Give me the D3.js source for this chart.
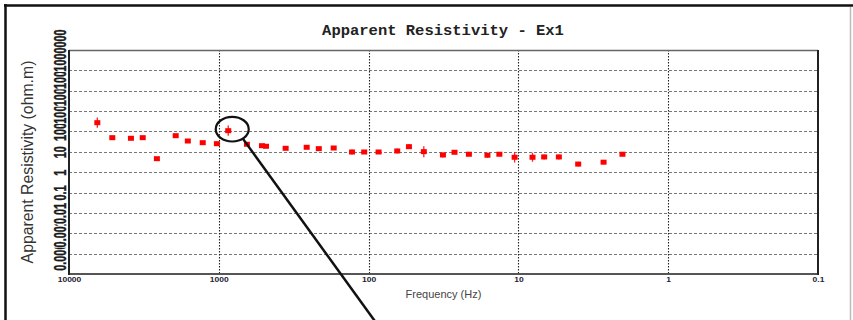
<!DOCTYPE html>
<html>
<head>
<meta charset="utf-8">
<script src="https://cdn.jsdelivr.net/npm/d3@7"></script>
<style>
  html, body { margin: 0; padding: 0; background: #fff; }
  svg { display: block; }
</style>
</head>
<body>
<svg width="853" height="320"></svg>
<script>
// sounding data
var freq = [6470, 5140, 3860, 3220, 2590, 1940, 1610, 1280, 1030, 865,
            649, 515, 484, 358, 259, 215, 171, 129, 107, 85.8,
            64.4, 53.8, 42.8, 31.9, 26.7, 21.4, 16.1, 13.4, 10.6, 8.05,
            6.73, 5.37, 3.99, 2.70, 2.02];
var rho = [270, 49.5, 46.2, 49.5, 4.6, 62, 34, 28.1, 25.1, 109,
           23.5, 20, 18.7, 14.9, 16.7, 14.3, 15.4, 9.8, 9.8, 9.8,
           11, 17.9, 10.2, 7.0, 9.5, 7.6, 6.8, 7.6, 5.4, 5.4,
           5.6, 5.6, 2.5, 3.1, 7.6];
// error half-width in decades
var rhoErr = [0.25, 0.06, 0.06, 0.06, 0.06, 0.06, 0.06, 0.06, 0.06, 0.25,
              0.06, 0.06, 0.06, 0.06, 0.06, 0.06, 0.06, 0.12, 0.06, 0.06,
              0.12, 0.12, 0.27, 0.12, 0.06, 0.06, 0.12, 0.06, 0.26, 0.22,
              0.12, 0.12, 0.12, 0.1, 0.1];

var xTicks = [10000, 1000, 100, 10, 1, 0.1];
var xTickLabels = ["10000", "1000", "100", "10", "1", "0.1"];
var yTicks = [0.0001, 0.001, 0.01, 0.1, 1, 10, 100, 1000, 10000, 100000, 1000000];
var yTickLabels = ["0.0001", "0.001", "0.01", "0.1", "1", "10", "100", "1000", "10000", "100000", "1000000"];

var svg = d3.select("svg"),
    pLeft = 69, pRight = 818, pTop = 50, pBottom = 274;

var x = d3.scaleLog().domain([10000, 0.1]).range([pLeft, pRight]);
var y = d3.scaleLog().domain([0.00001, 1000000]).range([pBottom, pTop]);

svg.append("rect").attr("width", 853).attr("height", 320).attr("fill", "#fff");

// outer frame
svg.append("line").attr("x1", 4).attr("x2", 853).attr("y1", 5.5).attr("y2", 5.5)
    .attr("stroke", "#111").attr("stroke-width", 2.5);
svg.append("line").attr("x1", 5.5).attr("x2", 5.5).attr("y1", 4).attr("y2", 320)
    .attr("stroke", "#111").attr("stroke-width", 2.5);
svg.append("line").attr("x1", 850.5).attr("x2", 850.5).attr("y1", 7).attr("y2", 320)
    .attr("stroke", "#bbb").attr("stroke-width", 1.5);

// title
svg.append("text")
    .attr("x", 443).attr("y", 35)
    .attr("text-anchor", "middle")
    .style("font-family", "'Liberation Mono', 'DejaVu Sans Mono', monospace")
    .style("font-weight", "bold")
    .style("font-size", "15.5px")
    .style("fill", "#222")
    .text("Apparent Resistivity - Ex1");

// horizontal grid
svg.append("g").selectAll("line")
    .data(yTicks.slice(0, -1).concat([1000000]))
    .enter().append("line")
    .attr("x1", pLeft).attr("x2", pRight)
    .attr("y1", function (d) { return Math.round(y(d)) + 0.5; })
    .attr("y2", function (d) { return Math.round(y(d)) + 0.5; })
    .attr("stroke", "#777")
    .attr("stroke-width", 1.2)
    .attr("stroke-dasharray", "3,2");

// vertical grid
svg.append("g").selectAll("line")
    .data(xTicks.slice(1, -1))
    .enter().append("line")
    .attr("x1", function (d) { return Math.round(x(d)) + 0.5; })
    .attr("x2", function (d) { return Math.round(x(d)) + 0.5; })
    .attr("y1", pTop).attr("y2", pBottom)
    .attr("stroke", "#222")
    .attr("stroke-width", 1.1)
    .attr("stroke-dasharray", "1.5,1.5");

// plot frame
svg.append("line").attr("x1", pLeft).attr("x2", pRight).attr("y1", pTop + 0.5).attr("y2", pTop + 0.5)
    .attr("stroke", "#666").attr("stroke-width", 1.5);
svg.append("line").attr("x1", pLeft).attr("x2", pRight + 1).attr("y1", pBottom).attr("y2", pBottom)
    .attr("stroke", "#555").attr("stroke-width", 2);
svg.append("line").attr("x1", pLeft).attr("x2", pLeft).attr("y1", pTop).attr("y2", pBottom + 1)
    .attr("stroke", "#222").attr("stroke-width", 2);
svg.append("line").attr("x1", pRight).attr("x2", pRight).attr("y1", pTop).attr("y2", pBottom + 1)
    .attr("stroke", "#222").attr("stroke-width", 2);

// x axis labels
var xAxis = svg.append("g")
    .attr("transform", "translate(0," + pBottom + ")")
    .call(d3.axisBottom(x).tickValues(xTicks).tickSize(0)
        .tickFormat(function (d, i) { return xTickLabels[i]; }));
xAxis.select(".domain").remove();
xAxis.selectAll("text")
    .attr("y", 0).attr("dy", null)
    .attr("transform", "translate(0,8) scale(1,0.75)")
    .style("font-family", "'Liberation Sans', Arial, sans-serif")
    .style("font-weight", "bold")
    .style("font-size", "8.5px")
    .style("fill", "#223");

// y axis labels: rotated, each on a white patch so higher ones cover lower
var yAxis = svg.append("g")
    .attr("transform", "translate(" + pLeft + ",0)")
    .call(d3.axisLeft(y).tickValues(yTicks).tickSize(0)
        .tickFormat(function (d, i) { return yTickLabels[i]; }));
yAxis.select(".domain").remove();
yAxis.selectAll(".tick").each(function () {
    var t = d3.select(this),
        label = t.select("text").text();
    t.select("text").remove();
    var lg = t.append("g").attr("transform", "translate(-3,0) rotate(-90) scale(0.68,1)");
    var bg = lg.append("rect").attr("fill", "#fff");
    var txt = lg.append("text")
        .attr("x", 0).attr("y", 0)
        .attr("text-anchor", "middle")
        .style("font-family", "'Liberation Sans', Arial, sans-serif")
        .style("font-weight", "bold")
        .style("font-size", "16px")
        .style("fill", "#1a1a1a")
        .style("stroke", "#1a1a1a")
        .style("stroke-width", 0.4)
        .text(label);
    var len = txt.node().getComputedTextLength();
    bg.attr("x", -len / 2 - 0.5).attr("y", -13).attr("width", len + 1).attr("height", 14);
});

// axis titles
svg.append("text")
    .attr("transform", "translate(33," + (pTop + pBottom) / 2 + ") rotate(-90)")
    .attr("text-anchor", "middle")
    .style("font-family", "'Liberation Sans', Arial, sans-serif")
    .style("font-size", "15.8px")
    .style("fill", "#333")
    .text("Apparent Resistivity (ohm.m)");

svg.append("text")
    .attr("x", (pLeft + pRight) / 2).attr("y", 297.5)
    .attr("text-anchor", "middle")
    .style("font-family", "'Liberation Sans', Arial, sans-serif")
    .style("font-size", "11px")
    .style("fill", "#444")
    .text("Frequency (Hz)");

// data
var pts = freq.map(function (f, i) { return { f: f, r: rho[i], e: rhoErr[i] }; });

svg.append("g").selectAll("line")
    .data(pts)
    .enter().append("line")
    .attr("x1", function (d) { return x(d.f); })
    .attr("x2", function (d) { return x(d.f); })
    .attr("y1", function (d) { return y(d.r * Math.pow(10, d.e)); })
    .attr("y2", function (d) { return y(d.r / Math.pow(10, d.e)); })
    .attr("stroke", "#f22")
    .attr("stroke-width", 1.3);

svg.append("g").selectAll("rect")
    .data(pts)
    .enter().append("rect")
    .attr("x", function (d) { return x(d.f) - 3; })
    .attr("y", function (d) { return y(d.r) - 2.5; })
    .attr("width", 6)
    .attr("height", 5)
    .attr("fill", "#f00");

// annotation around the 865 Hz point
var hx = x(freq[9]) + 4, hy = y(rho[9]) - 1.5,
    rx = 16.5, ry = 12.3, ang = 50 * Math.PI / 180;
svg.append("ellipse")
    .attr("cx", hx).attr("cy", hy).attr("rx", rx).attr("ry", ry)
    .attr("fill", "none").attr("stroke", "#111").attr("stroke-width", 2.2);
var sx = hx + rx * Math.cos(ang), sy = hy + ry * Math.sin(ang);
svg.append("line")
    .attr("x1", sx).attr("y1", sy)
    .attr("x2", sx + (325 - sy) / 1.382).attr("y2", 325)
    .attr("stroke", "#111").attr("stroke-width", 2.5);
</script>
</body>
</html>
